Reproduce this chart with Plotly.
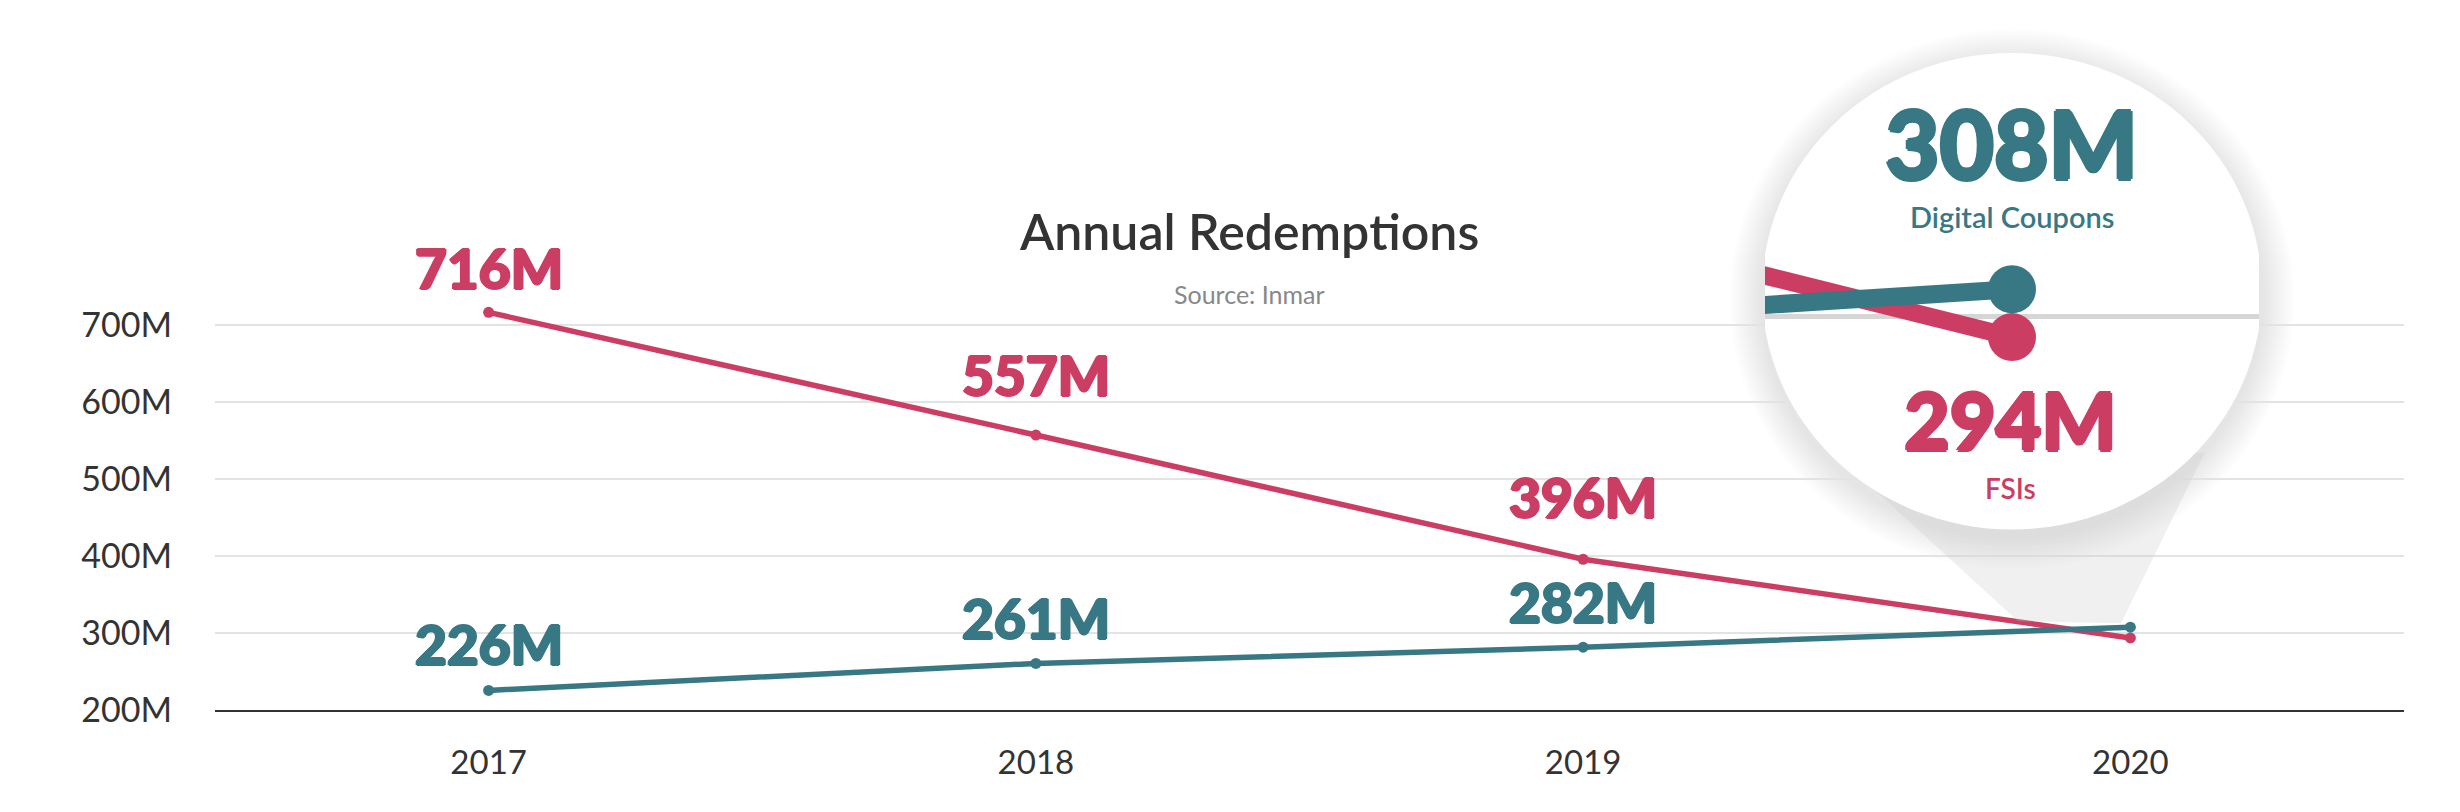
import plotly.graph_objects as go

# ---------------- data ----------------
YEARS = ["2017", "2018", "2019", "2020"]
FSI = [716, 557, 396, 294]          # millions
DIGITAL = [226, 261, 282, 308]      # millions
Y_TICKS = [200, 300, 400, 500, 600, 700]
Y_TICK_TEXT = ["200M", "300M", "400M", "500M", "600M", "700M"]
SERIES_NAMES = ["FSIs", "Digital Coupons"]
TITLE = "Annual Redemp\u200ctions"
SUBTITLE = "Source: Inmar"

# ---------------- style ----------------
CRIMSON = "#CC3D64"
TEAL = "#377884"
FONT = "Lato"
W, H = 2460, 812
FSI_LABEL_SHIFT = [44, 60, 62]
DIG_LABEL_SHIFT = [46, 45, 45]


def fx(px):
    return px / W


def fy(py):
    return 1 - py / H


def heavy(color, d=1.2):
    return (f"{d}px 0 0 {color}, -{d}px 0 0 {color}, "
            f"0 {d}px 0 {color}, 0 -{d}px 0 {color}")


# main plot area (pixels)
PL, PR, PT, PB = 207, 2396, 245.3, 719.3
# inset (magnifier) area (pixels)
IL, IR, IT, IB = 1757, 2251, 38, 640
CX, CY, RX, RY = 2004, 290, 250, 244        # magnifier ellipse
X_SCALE = 1400.0                            # inset px per year
Y_SCALE = 3.5                               # inset px per million
DOT_PX_X, DOT_PX_Y = 2004, 288              # last digital point in inset

idx = list(range(len(YEARS)))
last = idx[-1]
x2_range = [last - (DOT_PX_X - IL) / X_SCALE, last + (IR - DOT_PX_X) / X_SCALE]
y2_range = [DIGITAL[-1] - (IB - DOT_PX_Y) / Y_SCALE, DIGITAL[-1] + (DOT_PX_Y - IT) / Y_SCALE]


def ix(px):
    return last + (px - DOT_PX_X) / X_SCALE


def iy(py):
    return DIGITAL[-1] - (py - DOT_PX_Y) / Y_SCALE


fig = go.Figure()

# main lines
fig.add_trace(go.Scatter(x=YEARS, y=FSI, mode="lines+markers", name=SERIES_NAMES[0],
                         line=dict(color=CRIMSON, width=5.5), marker=dict(size=11, color=CRIMSON),
                         xaxis="x", yaxis="y", showlegend=False))
fig.add_trace(go.Scatter(x=YEARS, y=DIGITAL, mode="lines+markers", name=SERIES_NAMES[1],
                         line=dict(color=TEAL, width=5.5), marker=dict(size=11, color=TEAL),
                         xaxis="x", yaxis="y", showlegend=False))

# magnified inset lines
fig.add_trace(go.Scatter(x=idx, y=FSI, mode="lines+markers",
                         line=dict(color=CRIMSON, width=18), marker=dict(size=48, color=CRIMSON),
                         xaxis="x2", yaxis="y2", showlegend=False, hoverinfo="skip"))
fig.add_trace(go.Scatter(x=idx, y=DIGITAL, mode="lines+markers",
                         line=dict(color=TEAL, width=18), marker=dict(size=48, color=TEAL),
                         xaxis="x2", yaxis="y2", showlegend=False, hoverinfo="skip"))

shapes = []
# soft shadow of the magnifier (lower layer)
for k in range(1, 14):
    e = 2.5 * k
    off = 8
    shapes.append(dict(type="circle", xref="paper", yref="paper", layer="below",
                       x0=fx(CX - RX - e), x1=fx(CX + RX + e),
                       y0=fy(CY + off + RY + e), y1=fy(CY + off - RY - e),
                       fillcolor="rgba(0,0,0,0.009)", line=dict(width=0)))

# cone toward the 2020 point (in inset coordinates, drawn above main data)
cone_pts = [(1863, 490), (2010, 628), (2113, 630), (2197, 455)]
path = "M " + " L ".join(f"{ix(px)},{iy(py)}" for px, py in cone_pts) + " Z"
shapes.append(dict(type="path", xref="x2", yref="y2", layer="below", path=path,
                   fillcolor="rgba(200,200,200,0.28)", line=dict(width=0)))
# white magnifier disc
shapes.append(dict(type="circle", xref="x2", yref="y2", layer="below",
                   x0=ix(CX - RX), x1=ix(CX + RX), y0=iy(CY + RY), y1=iy(CY - RY),
                   fillcolor="white", line=dict(width=0)))

annotations = [
    dict(text=TITLE, x=fx(1241), y=fy(228), xref="paper", yref="paper", showarrow=False,
         xanchor="center", yanchor="middle",
         font=dict(family=FONT, size=50, color="#333333", weight=600)),
    dict(text=SUBTITLE, x=fx(1241), y=fy(293), xref="paper", yref="paper", showarrow=False,
         xanchor="center", yanchor="middle",
         font=dict(family=FONT, size=25, color="#888888")),
]
for i in range(len(YEARS) - 1):
    annotations.append(dict(text=f"{FSI[i]}M", x=idx[i], y=FSI[i], xref="x", yref="y",
                            showarrow=False, xanchor="center", yanchor="middle",
                            yshift=FSI_LABEL_SHIFT[i],
                            font=dict(family=FONT, size=55, color=CRIMSON, weight=900,
                                      shadow=heavy(CRIMSON))))
    annotations.append(dict(text=f"{DIGITAL[i]}M", x=idx[i], y=DIGITAL[i], xref="x", yref="y",
                            showarrow=False, xanchor="center", yanchor="middle",
                            yshift=DIG_LABEL_SHIFT[i],
                            font=dict(family=FONT, size=55, color=TEAL, weight=900,
                                      shadow=heavy(TEAL))))

# magnifier texts
annotations += [
    dict(text=f"{DIGITAL[-1]}M", x=fx(2004), y=fy(138), xref="paper", yref="paper", showarrow=False,
         xanchor="center", yanchor="middle", borderpad=0,
         font=dict(family=FONT, size=94, color=TEAL, weight=900, shadow=heavy(TEAL, 1.8))),
    dict(text=SERIES_NAMES[1], x=fx(2004), y=fy(214), xref="paper", yref="paper", showarrow=False,
         xanchor="center", yanchor="middle", borderpad=0,
         font=dict(family=FONT, size=29, color=TEAL, weight=600)),
    dict(text=f"{FSI[-1]}M", x=fx(2002), y=fy(421), xref="paper", yref="paper", showarrow=False,
         xanchor="center", yanchor="middle", borderpad=0,
         font=dict(family=FONT, size=79, color=CRIMSON, weight=900, shadow=heavy(CRIMSON, 1.6))),
    dict(text=SERIES_NAMES[0], x=fx(2002), y=fy(491), xref="paper", yref="paper", showarrow=False,
         xanchor="center", yanchor="middle", borderpad=0,
         font=dict(family=FONT, size=28, color=CRIMSON, weight=600)),
]

fig.update_layout(
    width=W, height=H,
    margin=dict(l=0, r=0, t=0, b=0),
    paper_bgcolor="white", plot_bgcolor="rgba(0,0,0,0)",
    showlegend=False,
    shapes=shapes, annotations=annotations,
    xaxis=dict(domain=[fx(PL), fx(PR)], type="category", categoryorder="array", categoryarray=YEARS,
               range=[-0.5, len(YEARS) - 0.5], showgrid=False, zeroline=False,
               showline=True, linecolor="#333333", linewidth=2, ticks="",
               ticklabelstandoff=22, tickfont=dict(family=FONT, size=33, color="#333333"),
               anchor="y", fixedrange=True),
    yaxis=dict(domain=[fy(PB), fy(PT)], range=[200, 800], tickvals=Y_TICKS, ticktext=Y_TICK_TEXT,
               showgrid=True, gridcolor="#e3e3e3", gridwidth=1.5, zeroline=False, showline=False,
               ticks="", ticklabelstandoff=42, tickfont=dict(family=FONT, size=34, color="#333333"),
               anchor="x", fixedrange=True),
    xaxis2=dict(domain=[fx(IL), fx(IR)], range=x2_range, anchor="y2", visible=True,
                showgrid=False, zeroline=False, showline=False, showticklabels=False, ticks="",
                fixedrange=True),
    yaxis2=dict(domain=[fy(IB), fy(IT)], range=y2_range, anchor="x2", tickvals=[300],
                showgrid=True, gridcolor="#d6d6d6", gridwidth=5, zeroline=False, showline=False,
                showticklabels=False, ticks="", fixedrange=True),
)

fig.write_html("out.html")
